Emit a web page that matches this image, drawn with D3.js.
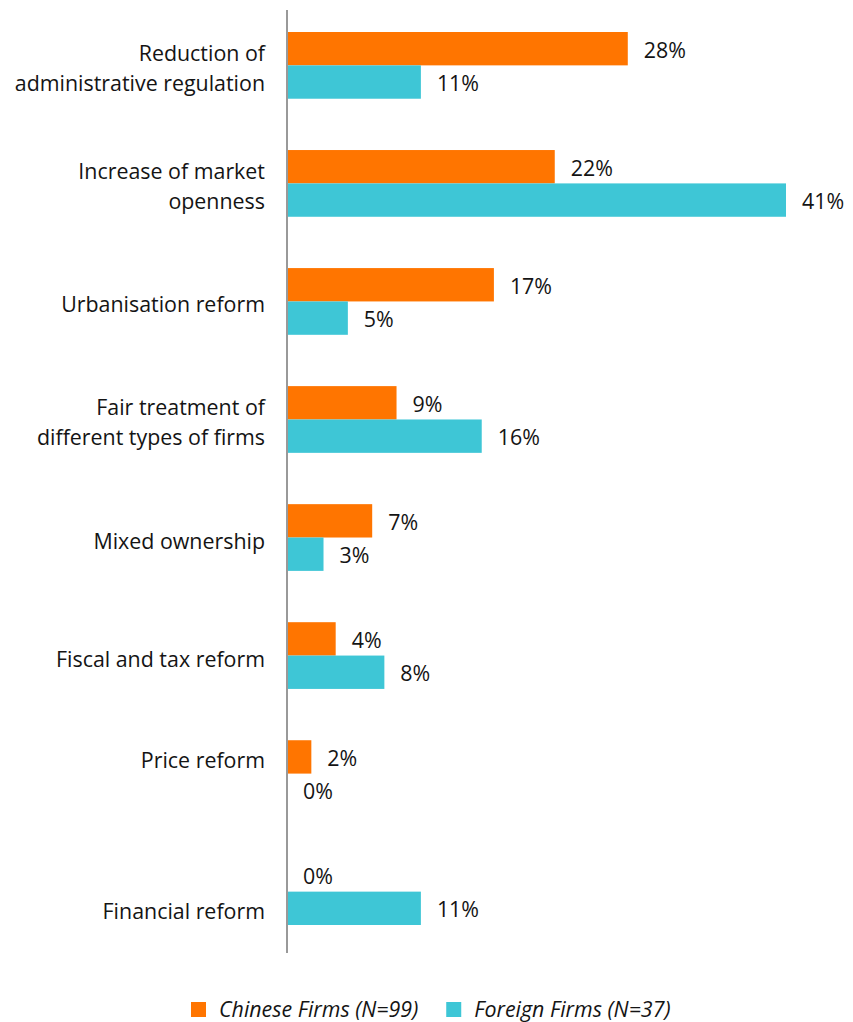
<!DOCTYPE html>
<html>
<head>
<meta charset="utf-8">
<script src="https://cdn.jsdelivr.net/npm/d3@7"></script>
<style>
  html, body { margin: 0; padding: 0; background: #fff; }
  svg { display: block; }
  text { font-family: "Open Sans", Lato, sans-serif; fill: #141414; }
</style>
</head>
<body>
<svg id="chart" width="853" height="1022"></svg>
<script>
// Reform priorities, share of respondents (%)
const categories = [
  "Reduction of\nadministrative regulation",
  "Increase of market\nopenness",
  "Urbanisation reform",
  "Fair treatment of\ndifferent types of firms",
  "Mixed ownership",
  "Fiscal and tax reform",
  "Price reform",
  "Financial reform"
];
const seriesNames = ["Chinese Firms (N=99)", "Foreign Firms (N=37)"];
const chineseFirms = [28, 22, 17, 9, 7, 4, 2, 0];
const foreignFirms = [11, 41, 5, 16, 3, 8, 0, 11];
const seriesColors = ["#ff7500", "#3ec6d6"];

const svg = d3.select("#chart");
const fontSize = 21.4;

const rows = categories.map((c, i) => ({
  category: c,
  values: [
    { key: seriesNames[0], value: chineseFirms[i] },
    { key: seriesNames[1], value: foreignFirms[i] }
  ]
}));

// Scales
const x = d3.scaleLinear().domain([0, 41]).range([287, 786]);
const y = d3.scaleBand()
  .domain(categories)
  .range([32, 925])
  .paddingInner(0.4347)
  .paddingOuter(0);
const ySub = d3.scaleBand().domain(seriesNames).range([0, y.bandwidth()]);
const color = d3.scaleOrdinal().domain(seriesNames).range(seriesColors);

// Bars
const groups = svg.append("g").selectAll("g")
  .data(rows)
  .join("g")
  .attr("transform", d => `translate(0,${y(d.category)})`);

groups.selectAll("rect")
  .data(d => d.values)
  .join("rect")
  .attr("x", x(0))
  .attr("y", d => ySub(d.key))
  .attr("width", d => x(d.value) - x(0))
  .attr("height", ySub.bandwidth())
  .attr("fill", d => color(d.key));

// Value labels
groups.selectAll("text.value")
  .data(d => d.values)
  .join("text")
  .attr("class", "value")
  .attr("x", d => x(d.value) + 16)
  .attr("y", d => ySub(d.key) + ySub.bandwidth() / 2 + 9)
  .attr("font-size", fontSize)
  .text(d => d.value + "%");

// Vertical axis line
svg.append("line")
  .attr("x1", x(0)).attr("x2", x(0))
  .attr("y1", 10).attr("y2", 953)
  .attr("stroke", "#999")
  .attr("stroke-width", 2);

// Category labels, centred on the bars that have a value
const lineGap = 30;
rows.forEach(r => {
  const shown = r.values.filter(v => v.value > 0);
  const top = d3.min(shown, v => ySub(v.key));
  const bottom = d3.max(shown, v => ySub(v.key) + ySub.bandwidth());
  const center = y(r.category) + (top + bottom) / 2;
  const lines = r.category.split("\n");
  const first = center - (lines.length - 1) * lineGap / 2 + 11;
  const t = svg.append("text")
    .attr("text-anchor", "end")
    .attr("font-size", fontSize);
  lines.forEach((ln, k) => {
    t.append("tspan")
      .attr("x", 265)
      .attr("y", first + k * lineGap)
      .text(ln);
  });
});

// Legend
const legend = svg.append("g").attr("transform", "translate(191,1002)");
let lx = 0;
seriesNames.forEach(name => {
  legend.append("rect")
    .attr("x", lx).attr("y", 0)
    .attr("width", 15).attr("height", 15)
    .attr("fill", color(name));
  const txt = legend.append("text")
    .attr("x", lx + 28)
    .attr("y", 15)
    .attr("font-size", fontSize)
    .attr("font-style", "italic")
    .text(name);
  lx += 28 + txt.node().getComputedTextLength() + 28;
});
</script>
</body>
</html>
